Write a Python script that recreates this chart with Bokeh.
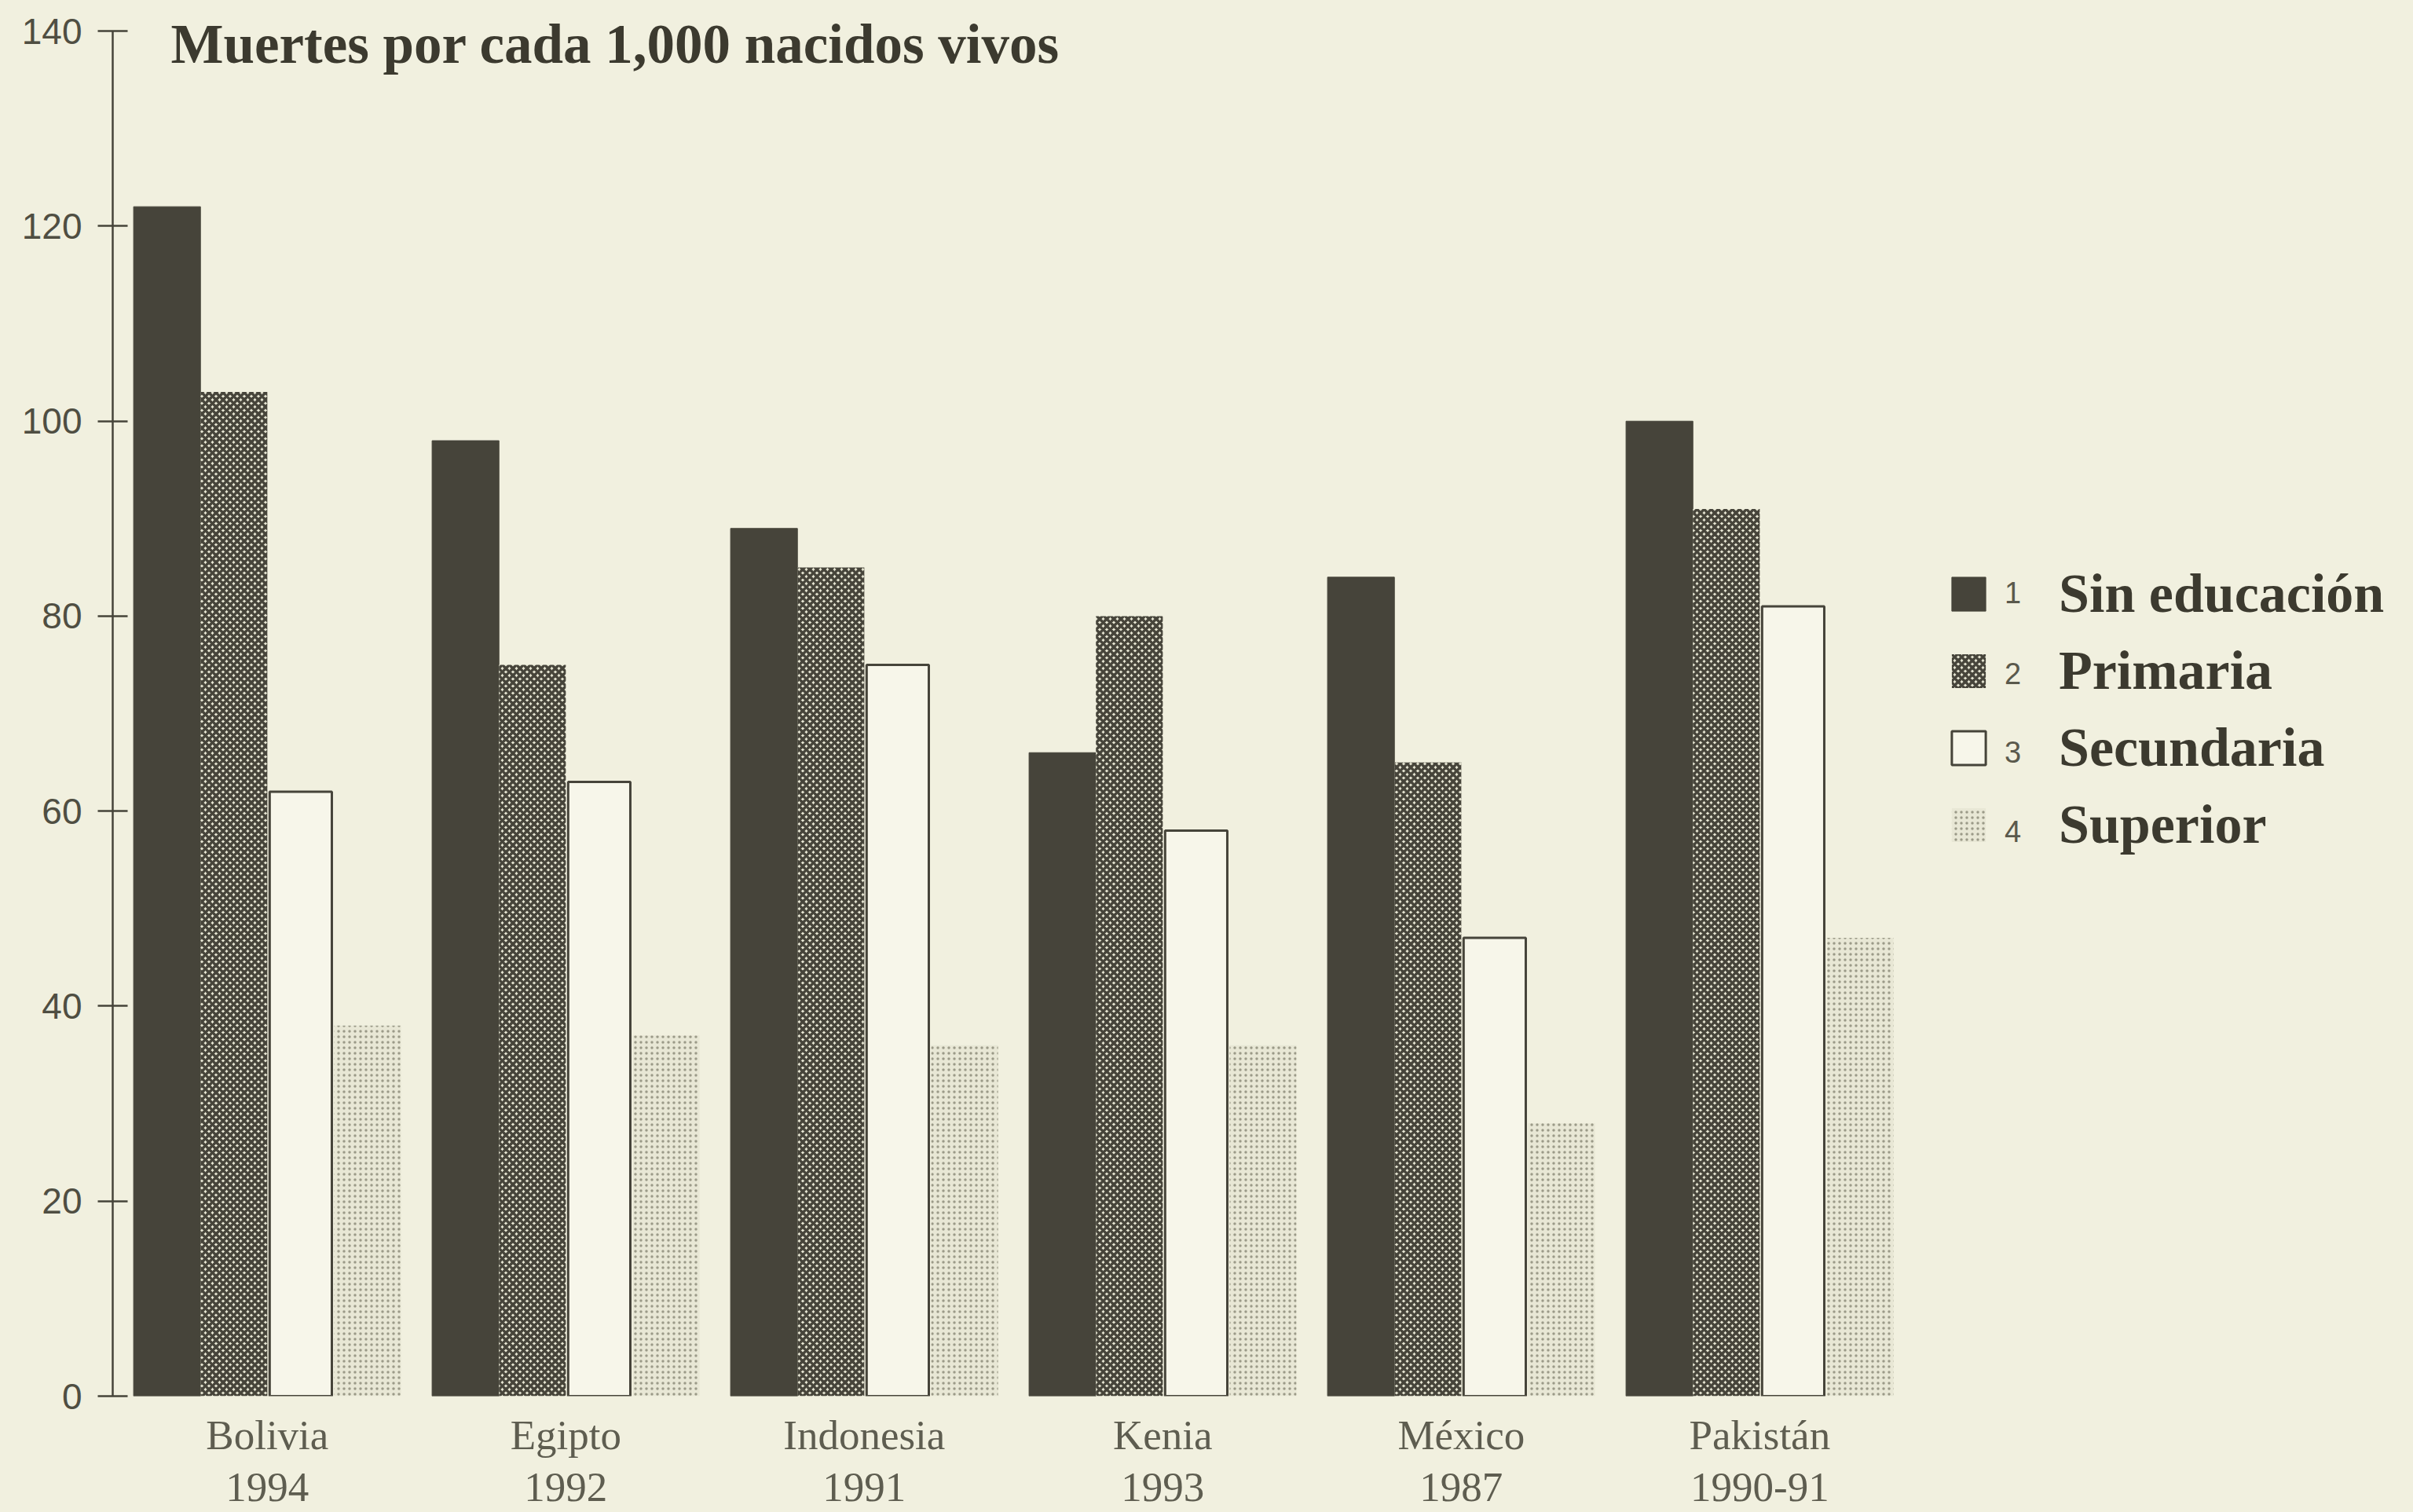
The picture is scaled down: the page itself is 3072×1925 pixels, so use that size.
import numpy as np
from bokeh.plotting import figure
from bokeh.models import ColumnDataSource, Range1d, FixedTicker, Label, Legend, LegendItem
from bokeh.embed import file_html
from bokeh.resources import INLINE

# ---- data ----
countries = ["Bolivia", "Egipto", "Indonesia", "Kenia", "México", "Pakistán"]
years = ["1994", "1992", "1991", "1993", "1987", "1990-91"]
sin_educacion = [122, 98, 89, 66, 84, 100]
primaria = [103, 75, 85, 80, 65, 91]
secundaria = [62, 63, 75, 58, 47, 81]
superior = [38, 37, 36, 36, 28, 47]
series_names = ["Sin educación", "Primaria", "Secundaria", "Superior"]
series_numbers = ["1", "2", "3", "4"]
y_ticks = [0, 20, 40, 60, 80, 100, 120, 140]
title_text = "Muertes por cada 1,000 nacidos vivos"

# ---- style ----
BG = "#f1f0df"
DARK = "#46443a"
TEXT = "#3c3a2f"
FRAME_W = 2921
PX_PER_UNIT = 380.0
X0 = -0.518
Y_PX = 1738 / 140.0
Y_END = 143
FRAME_H = int(round(Y_END * Y_PX))

p = figure(frame_width=FRAME_W, frame_height=FRAME_H,
           x_range=Range1d(X0, X0 + FRAME_W / PX_PER_UNIT),
           y_range=Range1d(0, Y_END),
           output_backend="svg", toolbar_location=None,
           min_border_left=143, min_border_top=39 + 1738 - FRAME_H,
           min_border_right=0, min_border_bottom=0,
           background_fill_color=BG, border_fill_color=BG, outline_line_color=None)

n = len(countries)
idx = np.arange(n)
bw = 0.224
offsets = [-1.5 * bw, -0.5 * bw, 0.5 * bw, 1.5 * bw]
series = [sin_educacion, primaria, secundaria, superior]

styles = [
    dict(fill_color=DARK, line_color=DARK, line_width=1),
    dict(fill_color="#e6e5d2", line_color=None, hatch_pattern="diagonal_cross",
         hatch_color=DARK, hatch_scale=9, hatch_weight=3.5),
    dict(fill_color="#f7f6ea", line_color=DARK, line_width=3),
    dict(fill_color="#e8e7d5", line_color=None, hatch_pattern="dot",
         hatch_color="#9b9a88", hatch_scale=7, hatch_weight=2),
]

renderers = []
for vals, off, st in zip(series, offsets, styles):
    src = ColumnDataSource(dict(x=idx + off, top=vals))
    w = bw if st.get("line_width", 0) < 2 else bw * 0.93
    r = p.vbar(x="x", top="top", bottom=0, width=w, source=src, **st)
    renderers.append(r)

# axes
p.xgrid.visible = False
p.ygrid.visible = False

ya = p.yaxis[0]
ya.ticker = FixedTicker(ticks=y_ticks)
ya.bounds = (y_ticks[0], y_ticks[-1])
ya.axis_line_color = DARK
ya.axis_line_width = 2.5
ya.major_tick_in = 19
ya.major_tick_out = 19
ya.major_tick_line_color = DARK
ya.major_tick_line_width = 2.5
ya.minor_tick_line_color = None
ya.major_label_standoff = 20
ya.major_label_text_font = "Liberation Sans"
ya.major_label_text_font_size = "46px"
ya.major_label_text_color = "#4f4e42"

xa = p.xaxis[0]
xa.ticker = FixedTicker(ticks=list(range(n)))
xa.major_label_overrides = {i: f"{c}\n{y}" for i, (c, y) in enumerate(zip(countries, years))}
xa.axis_line_color = None
xa.major_tick_line_color = None
xa.minor_tick_line_color = None
xa.major_label_standoff = 14
xa.major_label_text_font = "Liberation Serif"
xa.major_label_text_font_size = "53px"
xa.major_label_text_color = "#5e5d50"
xa.major_label_text_line_height = 1.15

# title inside the frame
p.add_layout(Label(x=74, y=1722, x_units="screen", y_units="screen", text=title_text,
                   text_font="Liberation Serif", text_font_style="bold",
                   text_font_size="71px", text_color=TEXT, text_baseline="alphabetic"))

# legend
legend = Legend(items=[LegendItem(label=nm, renderers=[r]) for nm, r in zip(series_names, renderers)],
                location=(2336, 687), orientation="vertical",
                glyph_width=54, glyph_height=54, label_standoff=88, spacing=18,
                padding=0, margin=0, border_line_color=None, background_fill_alpha=0,
                label_text_font="Liberation Serif", label_text_font_style="bold",
                label_text_font_size="70px", label_text_color=TEXT)
p.add_layout(legend)

row_y = [1023, 920, 820, 719]
for num, yy in zip(series_numbers, row_y):
    p.add_layout(Label(x=2419, y=yy, x_units="screen", y_units="screen", text=num,
                       text_font="Liberation Sans", text_font_size="38px",
                       text_color="#5a594c", text_align="center", text_baseline="middle"))

html = file_html(p, INLINE)
html = html.replace("<body>", f'<body style="background-color:{BG}">')
open("out.html", "w").write(html)
